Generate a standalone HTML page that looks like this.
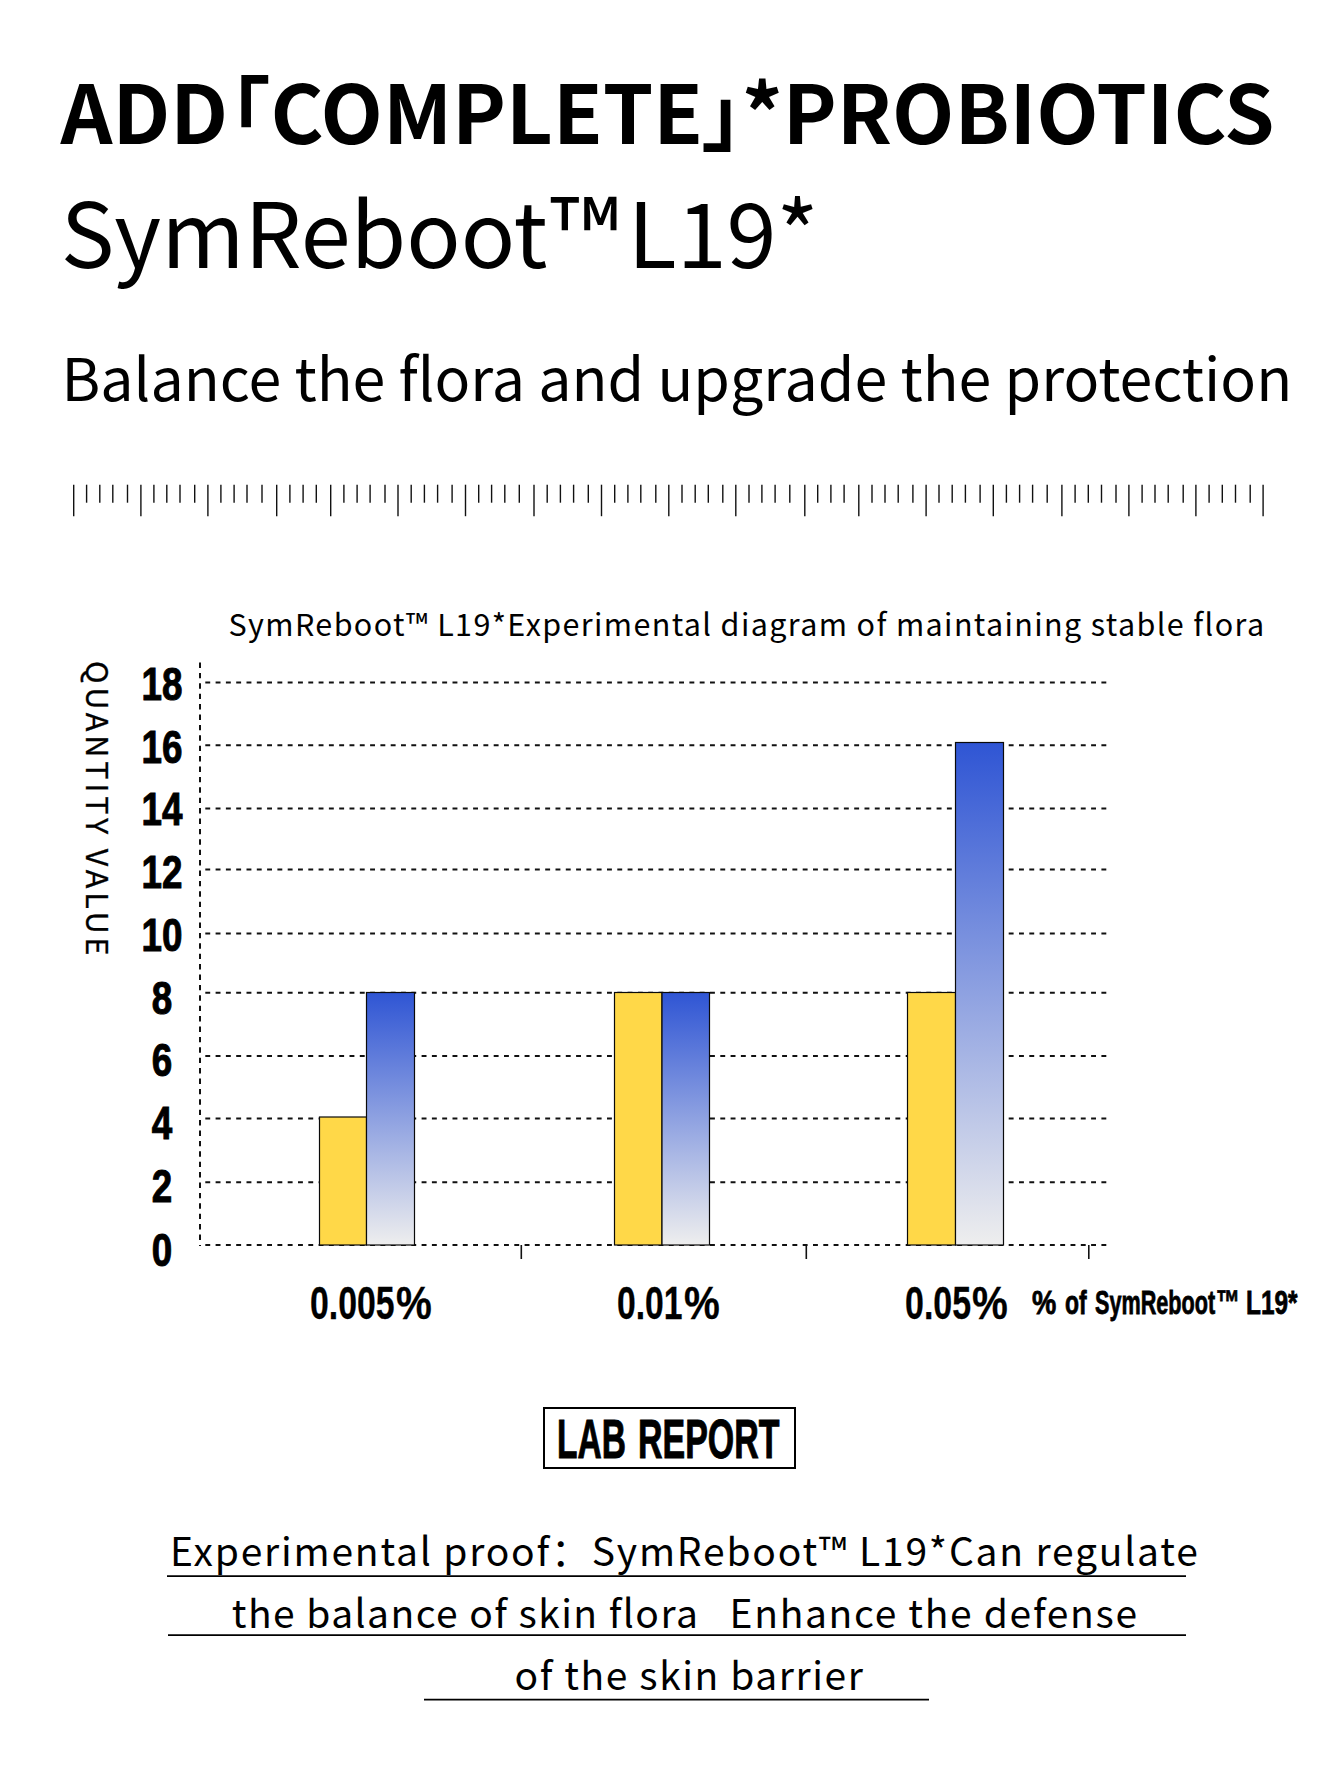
<!DOCTYPE html>
<html lang="en"><head><meta charset="utf-8"><title>SymReboot L19 Probiotics</title>
<style>
html,body{margin:0;padding:0;background:#fff;}
body{width:1340px;height:1785px;position:relative;overflow:hidden;color:#000;
 font-family:"Noto Sans CJK SC","Liberation Sans",sans-serif;}
.t{position:absolute;white-space:nowrap;line-height:1;margin:0;}
#h1{left:60.5px;top:67.5px;font-size:81px;font-weight:700;}
.lb{margin-left:calc(-0.5em + 2px);}.rb{margin-right:-0.5em;margin-left:-2px;}
#h2{left:60.7px;top:183.5px;font-size:90px;font-weight:400;}
.tm{font-size:1.08em;line-height:0;position:relative;top:2.6px;margin-left:3px;margin-right:-12px;}
#h3{left:61.5px;top:346px;font-size:59.1px;font-weight:400;}
#ct{left:228.5px;top:608px;font-size:30.5px;letter-spacing:1.38px;}
#qv{left:82.5px;top:661.4px;font-size:30.5px;letter-spacing:3.9px;-webkit-text-stroke:0.3px #000;transform-origin:0 0;transform:rotate(90deg) translateY(-100%);}
.cn{position:absolute;white-space:nowrap;font-family:"Liberation Sans",sans-serif;font-weight:700;line-height:60px;height:60px;
 -webkit-text-stroke:1px #000;}
.num{left:62px;width:200px;text-align:center;font-size:46px;transform:scaleX(.80);}
.pc{transform-origin:0 50%;display:block;}
#p1,#p2,#p3{font-size:39px;}#p1{letter-spacing:1.8px}#p2{letter-spacing:1.54px}#p3{letter-spacing:1.58px}
svg{position:absolute;left:0;top:0;}
</style></head><body>
<h1 class="t" id="h1">ADD<span class="lb">「</span>COMPLETE<span class="rb">」</span><span class="as">*</span>PROBIOTICS</h1>
<div class="t" id="h2">SymReboot<span class="tm">™</span> L19*</div>
<div class="t" id="h3">Balance the flora and upgrade the protection</div>
<svg width="1340" height="1785" viewBox="0 0 1340 1785">
<defs><linearGradient id="bg" x1="0" y1="0" x2="0" y2="1"><stop offset="0" stop-color="#2f55d4"/><stop offset="1" stop-color="#eeeeee"/></linearGradient></defs>
<g stroke="#111" stroke-width="1.4"><line x1="73.7" x2="73.7" y1="484.7" y2="516.2"/><line x1="140.9" x2="140.9" y1="484.7" y2="516.2"/><line x1="207.9" x2="207.9" y1="484.7" y2="516.2"/><line x1="276.7" x2="276.7" y1="484.7" y2="516.2"/><line x1="330.7" x2="330.7" y1="484.7" y2="516.2"/><line x1="398" x2="398" y1="484.7" y2="516.2"/><line x1="465.5" x2="465.5" y1="484.7" y2="516.2"/><line x1="534" x2="534" y1="484.7" y2="516.2"/><line x1="601.5" x2="601.5" y1="484.7" y2="516.2"/><line x1="668.8" x2="668.8" y1="484.7" y2="516.2"/><line x1="735.8" x2="735.8" y1="484.7" y2="516.2"/><line x1="804.8" x2="804.8" y1="484.7" y2="516.2"/><line x1="858.8" x2="858.8" y1="484.7" y2="516.2"/><line x1="926.1" x2="926.1" y1="484.7" y2="516.2"/><line x1="993.3" x2="993.3" y1="484.7" y2="516.2"/><line x1="1061.9" x2="1061.9" y1="484.7" y2="516.2"/><line x1="1128.9" x2="1128.9" y1="484.7" y2="516.2"/><line x1="1195.9" x2="1195.9" y1="484.7" y2="516.2"/><line x1="1263.1" x2="1263.1" y1="484.7" y2="516.2"/><line x1="86.6" x2="86.6" y1="484.7" y2="502.7"/><line x1="99.8" x2="99.8" y1="484.7" y2="502.7"/><line x1="112.8" x2="112.8" y1="484.7" y2="502.7"/><line x1="127.5" x2="127.5" y1="484.7" y2="502.7"/><line x1="153.9" x2="153.9" y1="484.7" y2="502.7"/><line x1="166.8" x2="166.8" y1="484.7" y2="502.7"/><line x1="180" x2="180" y1="484.7" y2="502.7"/><line x1="194.7" x2="194.7" y1="484.7" y2="502.7"/><line x1="220.9" x2="220.9" y1="484.7" y2="502.7"/><line x1="234.1" x2="234.1" y1="484.7" y2="502.7"/><line x1="247" x2="247" y1="484.7" y2="502.7"/><line x1="262" x2="262" y1="484.7" y2="502.7"/><line x1="289.9" x2="289.9" y1="484.7" y2="502.7"/><line x1="303.1" x2="303.1" y1="484.7" y2="502.7"/><line x1="316.3" x2="316.3" y1="484.7" y2="502.7"/><line x1="343.9" x2="343.9" y1="484.7" y2="502.7"/><line x1="357.1" x2="357.1" y1="484.7" y2="502.7"/><line x1="370.1" x2="370.1" y1="484.7" y2="502.7"/><line x1="385" x2="385" y1="484.7" y2="502.7"/><line x1="411.2" x2="411.2" y1="484.7" y2="502.7"/><line x1="424.4" x2="424.4" y1="484.7" y2="502.7"/><line x1="437.6" x2="437.6" y1="484.7" y2="502.7"/><line x1="452.1" x2="452.1" y1="484.7" y2="502.7"/><line x1="478.7" x2="478.7" y1="484.7" y2="502.7"/><line x1="491.6" x2="491.6" y1="484.7" y2="502.7"/><line x1="504.8" x2="504.8" y1="484.7" y2="502.7"/><line x1="519.3" x2="519.3" y1="484.7" y2="502.7"/><line x1="547.2" x2="547.2" y1="484.7" y2="502.7"/><line x1="560.4" x2="560.4" y1="484.7" y2="502.7"/><line x1="573.6" x2="573.6" y1="484.7" y2="502.7"/><line x1="588.3" x2="588.3" y1="484.7" y2="502.7"/><line x1="614.7" x2="614.7" y1="484.7" y2="502.7"/><line x1="627.9" x2="627.9" y1="484.7" y2="502.7"/><line x1="640.8" x2="640.8" y1="484.7" y2="502.7"/><line x1="655.8" x2="655.8" y1="484.7" y2="502.7"/><line x1="682" x2="682" y1="484.7" y2="502.7"/><line x1="695.2" x2="695.2" y1="484.7" y2="502.7"/><line x1="708.3" x2="708.3" y1="484.7" y2="502.7"/><line x1="722.8" x2="722.8" y1="484.7" y2="502.7"/><line x1="749" x2="749" y1="484.7" y2="502.7"/><line x1="761.9" x2="761.9" y1="484.7" y2="502.7"/><line x1="775.1" x2="775.1" y1="484.7" y2="502.7"/><line x1="789.8" x2="789.8" y1="484.7" y2="502.7"/><line x1="817.7" x2="817.7" y1="484.7" y2="502.7"/><line x1="830.9" x2="830.9" y1="484.7" y2="502.7"/><line x1="844.1" x2="844.1" y1="484.7" y2="502.7"/><line x1="872" x2="872" y1="484.7" y2="502.7"/><line x1="885" x2="885" y1="484.7" y2="502.7"/><line x1="898.2" x2="898.2" y1="484.7" y2="502.7"/><line x1="912.9" x2="912.9" y1="484.7" y2="502.7"/><line x1="939" x2="939" y1="484.7" y2="502.7"/><line x1="952.2" x2="952.2" y1="484.7" y2="502.7"/><line x1="965.4" x2="965.4" y1="484.7" y2="502.7"/><line x1="980.1" x2="980.1" y1="484.7" y2="502.7"/><line x1="1006.4" x2="1006.4" y1="484.7" y2="502.7"/><line x1="1019.6" x2="1019.6" y1="484.7" y2="502.7"/><line x1="1032.6" x2="1032.6" y1="484.7" y2="502.7"/><line x1="1047.2" x2="1047.2" y1="484.7" y2="502.7"/><line x1="1075.1" x2="1075.1" y1="484.7" y2="502.7"/><line x1="1088.3" x2="1088.3" y1="484.7" y2="502.7"/><line x1="1101.5" x2="1101.5" y1="484.7" y2="502.7"/><line x1="1116" x2="1116" y1="484.7" y2="502.7"/><line x1="1142.1" x2="1142.1" y1="484.7" y2="502.7"/><line x1="1155" x2="1155" y1="484.7" y2="502.7"/><line x1="1168.2" x2="1168.2" y1="484.7" y2="502.7"/><line x1="1183.2" x2="1183.2" y1="484.7" y2="502.7"/><line x1="1209.1" x2="1209.1" y1="484.7" y2="502.7"/><line x1="1222.3" x2="1222.3" y1="484.7" y2="502.7"/><line x1="1235.5" x2="1235.5" y1="484.7" y2="502.7"/><line x1="1250.2" x2="1250.2" y1="484.7" y2="502.7"/></g>
<g stroke="#111" stroke-width="2" stroke-dasharray="4.9 5.4"><line x1="205.3" x2="1108" y1="682.4" y2="682.4"/><line x1="205.3" x2="1108" y1="745.2" y2="745.2"/><line x1="205.3" x2="1108" y1="808.6" y2="808.6"/><line x1="205.3" x2="1108" y1="869.6" y2="869.6"/><line x1="205.3" x2="1108" y1="933.4" y2="933.4"/><line x1="205.3" x2="1108" y1="992.8" y2="992.8"/><line x1="205.3" x2="1108" y1="1056.1" y2="1056.1"/><line x1="205.3" x2="1108" y1="1118.5" y2="1118.5"/><line x1="205.3" x2="1108" y1="1182.2" y2="1182.2"/><line x1="205.3" x2="1108" y1="1244.9" y2="1244.9"/></g>
<line x1="200" x2="200" y1="662.5" y2="1246" stroke="#111" stroke-width="2" stroke-dasharray="5.4 5"/>
<g stroke="#0a0a0a" stroke-width="1.2">
<rect x="319.5" y="1117" width="47" height="128" fill="#ffd848"/>
<rect x="366.5" y="992.5" width="48" height="252.5" fill="url(#bg)"/>
<rect x="614.5" y="992.5" width="47.5" height="252.5" fill="#ffd848"/>
<rect x="662" y="992.5" width="47.5" height="252.5" fill="url(#bg)"/>
<rect x="907.5" y="992.5" width="48" height="252.5" fill="#ffd848"/>
<rect x="955.5" y="742.5" width="48" height="502.5" fill="url(#bg)"/>
</g>
<g stroke="#111" stroke-width="1.6">
<line x1="521.3" x2="521.3" y1="1245" y2="1259"/><line x1="806.3" x2="806.3" y1="1245" y2="1259"/><line x1="1088.8" x2="1088.8" y1="1245" y2="1259"/>
</g>
<rect x="544" y="1408" width="251" height="60" fill="none" stroke="#000" stroke-width="2"/>
<g stroke="#000" stroke-width="1.7">
<line x1="167" x2="1186" y1="1576.1" y2="1576.1"/><line x1="168" x2="1186" y1="1635.2" y2="1635.2"/><line x1="424" x2="929" y1="1699.7" y2="1699.7"/>
</g>
</svg>
<div class="t" id="ct">SymReboot™ L19*Experimental diagram of maintaining stable flora</div>
<div class="t" id="qv">QUANTITY VALUE</div>
<div class="cn num" style="top:654.2px">18</div><div class="cn num" style="top:717.4px">16</div><div class="cn num" style="top:779.2px">14</div><div class="cn num" style="top:842.2px">12</div><div class="cn num" style="top:905.2px">10</div><div class="cn num" style="top:967.8px">8</div><div class="cn num" style="top:1030.4px">6</div><div class="cn num" style="top:1092.9px">4</div><div class="cn num" style="top:1155.6px">2</div><div class="cn num" style="top:1220px">0</div>
<div id="xlabels"><span class="cn pc " style="left:310.27px;top:1273px;font-size:46px;-webkit-text-stroke:0.3px #000;transform:scaleX(0.7346)">0.005</span><span class="cn pc " style="left:395.73px;top:1273px;font-size:46px;-webkit-text-stroke:0.3px #000;transform:scaleX(0.8753)">%</span><span class="cn pc " style="left:617.18px;top:1273px;font-size:46px;-webkit-text-stroke:0.3px #000;transform:scaleX(0.7322)">0.01</span><span class="cn pc " style="left:683.53px;top:1273px;font-size:46px;-webkit-text-stroke:0.3px #000;transform:scaleX(0.8753)">%</span><span class="cn pc " style="left:904.97px;top:1273px;font-size:46px;-webkit-text-stroke:0.3px #000;transform:scaleX(0.7379)">0.05</span><span class="cn pc " style="left:972.03px;top:1273px;font-size:46px;-webkit-text-stroke:0.3px #000;transform:scaleX(0.8753)">%</span></div>
<div id="plabel"><span class="cn pc " style="left:1031.94px;top:1272px;font-size:34px;-webkit-text-stroke:0.8px #000;transform:scaleX(0.8024)">%</span><span class="cn pc " style="left:1065.27px;top:1272px;font-size:34px;-webkit-text-stroke:0.8px #000;transform:scaleX(0.6734)">of</span><span class="cn pc " style="left:1094.63px;top:1272px;font-size:34px;-webkit-text-stroke:0.8px #000;transform:scaleX(0.6362)">SymReboot</span><span class="cn pc " style="left:1215.82px;top:1272px;font-size:34px;-webkit-text-stroke:0.8px #000;transform:scaleX(0.7042)">™</span><span class="cn pc " style="left:1245.86px;top:1272px;font-size:34px;-webkit-text-stroke:0.8px #000;transform:scaleX(0.7168)">L19*</span></div>
<div id="lab"><span class="cn pc " style="left:557.16px;top:1409px;font-size:55px;-webkit-text-stroke:1px #000;transform:scaleX(0.6091)">LAB</span><span class="cn pc " style="left:638.14px;top:1409px;font-size:55px;-webkit-text-stroke:1px #000;transform:scaleX(0.6175)">REPORT</span></div>
<div class="t" id="p1" style="left:170px;top:1530px;">Experimental proof：SymReboot™ L19*Can regulate</div>
<div class="t" id="p2" style="left:231.8px;top:1591.5px;"><span style="letter-spacing:1.43px">the balance of skin flora</span><span style="letter-spacing:1.33px">&nbsp;&nbsp; </span><span style="letter-spacing:1.67px">Enhance the defense</span></div>
<div class="t" id="p3" style="left:514.5px;top:1653.5px;">of the skin barrier</div>
</body></html>
